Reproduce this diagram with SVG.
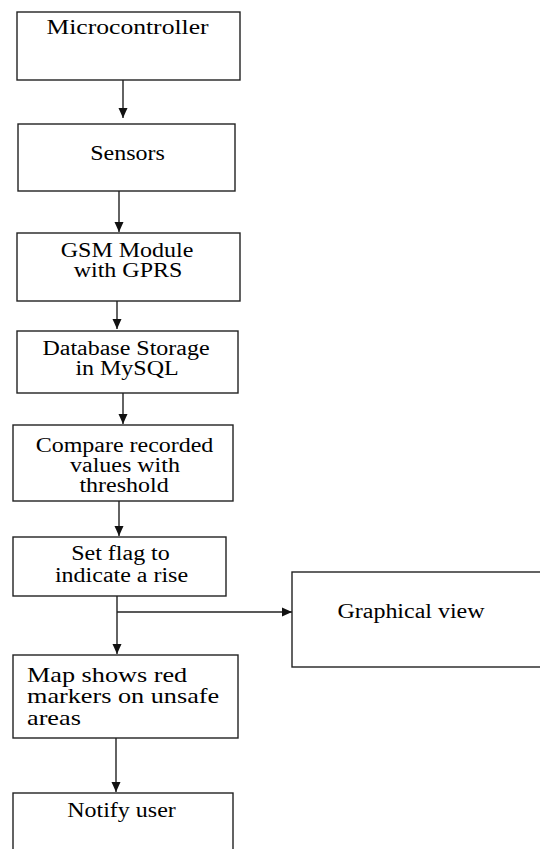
<svg xmlns="http://www.w3.org/2000/svg" width="540" height="849" viewBox="0 0 540 849">
<style>
.box{fill:#fff;stroke:#222;stroke-width:1.4}
.t{font-family:"Liberation Serif","Times New Roman",serif;font-size:20.5px;fill:#000;text-anchor:middle}
.tl{font-family:"Liberation Serif","Times New Roman",serif;font-size:21.5px;fill:#000}
.c{fill:none;stroke:#222;stroke-width:1.4}
</style>
<defs>
<marker id="ah" markerUnits="userSpaceOnUse" markerWidth="10" markerHeight="10" refX="10" refY="5" orient="auto"><path d="M0,0.5 L10,5 L0,9.5 z" fill="#111"/></marker>
</defs>
<rect width="540" height="849" fill="#fff"/>
<g id="connectors">
<line class="c" x1="123" y1="80" x2="123" y2="118" marker-end="url(#ah)"/>
<line class="c" x1="119" y1="191" x2="119" y2="232" marker-end="url(#ah)"/>
<line class="c" x1="117" y1="301" x2="117" y2="329" marker-end="url(#ah)"/>
<line class="c" x1="123" y1="393" x2="123" y2="424" marker-end="url(#ah)"/>
<line class="c" x1="119" y1="501" x2="119" y2="536" marker-end="url(#ah)"/>
<line class="c" x1="117" y1="596" x2="117" y2="654" marker-end="url(#ah)"/>
<line class="c" x1="117" y1="612" x2="292" y2="612" marker-end="url(#ah)"/>
<line class="c" x1="116" y1="738" x2="116" y2="792" marker-end="url(#ah)"/>
</g>
<g id="microcontroller"><rect class="box" x="17" y="12" width="223" height="68"/><text class="t" transform="translate(127.5,34) scale(1.25,1)">Microcontroller</text></g>
<g id="sensors"><rect class="box" x="18" y="124" width="217" height="67"/><text class="t" transform="translate(127.5,160) scale(1.17,1)">Sensors</text></g>
<g id="gsm"><rect class="box" x="17" y="233" width="223" height="68"/><text class="t" transform="translate(127,257) scale(1.17,1)">GSM Module</text><text class="t" transform="translate(128,277) scale(1.17,1)">with GPRS</text></g>
<g id="database"><rect class="box" x="17" y="331" width="221" height="62"/><text class="t" transform="translate(126,355) scale(1.17,1)">Database Storage</text><text class="t" transform="translate(127,375) scale(1.17,1)">in MySQL</text></g>
<g id="compare"><rect class="box" x="13" y="425" width="220" height="76"/><text class="t" transform="translate(124.5,452) scale(1.17,1)">Compare recorded</text><text class="t" transform="translate(125,472) scale(1.17,1)">values with</text><text class="t" transform="translate(124,492) scale(1.17,1)">threshold</text></g>
<g id="setflag"><rect class="box" x="13" y="537" width="213" height="59"/><text class="t" transform="translate(120.5,560) scale(1.17,1)">Set flag to</text><text class="t" transform="translate(121.5,582) scale(1.17,1)">indicate a rise</text></g>
<g id="graphical"><rect class="box" x="292" y="572" width="255" height="95"/><text class="t" transform="translate(411,618) scale(1.17,1)">Graphical view</text></g>
<g id="map"><rect class="box" x="13" y="655" width="225" height="83"/><text class="tl" transform="translate(27,682) scale(1.22,1)">Map shows red</text><text class="tl" transform="translate(27,703) scale(1.22,1)">markers on unsafe</text><text class="tl" transform="translate(27,725) scale(1.22,1)">areas</text></g>
<g id="notify"><rect class="box" x="13" y="793" width="220" height="70"/><text class="t" transform="translate(121.5,817) scale(1.17,1)">Notify user</text></g>
</svg>
